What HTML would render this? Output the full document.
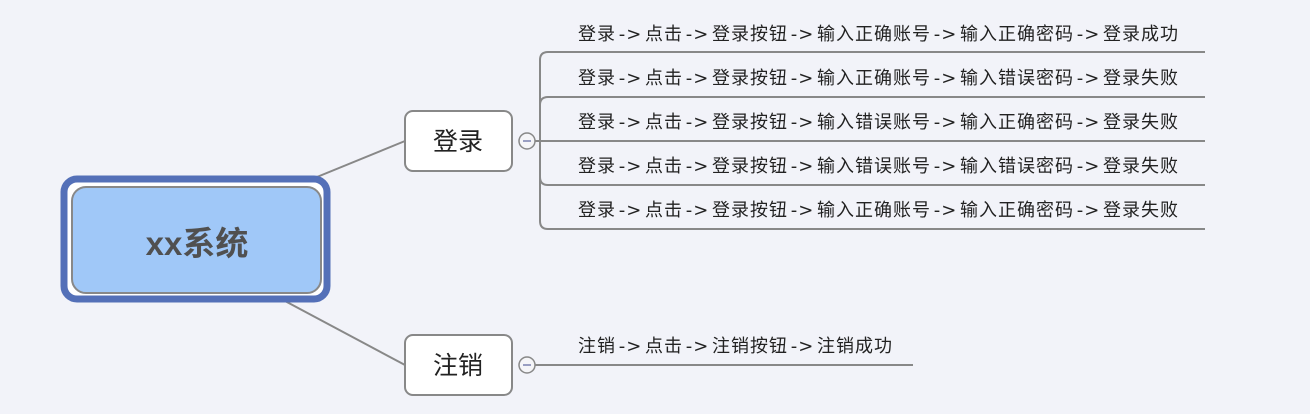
<!DOCTYPE html>
<html><head><meta charset="utf-8"><style>
body{margin:0;width:1310px;height:414px;background:#f2f3f9;overflow:hidden;font-family:"Liberation Sans","Noto Sans CJK SC",sans-serif;}
.t{position:absolute;font-size:18px;letter-spacing:1px;color:#222;white-space:nowrap;line-height:20px;font-family:"Noto Sans CJK SC",sans-serif}
.a{display:inline-block;width:29px;text-align:center;letter-spacing:1px;font-family:"DejaVu Sans",sans-serif;font-size:18px}
</style></head><body>
<svg width="1310" height="414" style="position:absolute;left:0;top:0">
<g fill="none" stroke="#888" stroke-width="2">
<line x1="290" y1="188" x2="405" y2="141"/>
<line x1="270" y1="293" x2="405" y2="365"/>
<path d="M519 141 H1205"/>
<path d="M1205 52 H548 Q540 52 540 60 V221 Q540 229 548 229 H1205"/>
<path d="M540 105 Q540 97 548 97 H1205"/>
<path d="M540 177 Q540 185 548 185 H1205"/>
<path d="M519 365 H913"/>
</g>
<rect x="64" y="179" width="263" height="120" rx="13" fill="#fff" stroke="#5470b8" stroke-width="7"/>
<rect x="72" y="187" width="249" height="106" rx="14" fill="#a0c8f8" stroke="#888" stroke-width="2"/>
<text x="197" y="255" text-anchor="middle" font-size="33" font-weight="bold" fill="#505050" font-family="Liberation Sans,Noto Sans CJK SC,sans-serif">xx系统</text>
<rect x="405" y="111" width="107" height="60" rx="8" fill="#fff" stroke="#888" stroke-width="2"/>
<rect x="405" y="335" width="107" height="60" rx="8" fill="#fff" stroke="#888" stroke-width="2"/>
<text x="458" y="150" text-anchor="middle" font-size="25" fill="#222" font-family="Noto Sans CJK SC,sans-serif">登录</text>
<text x="458" y="374" text-anchor="middle" font-size="25" fill="#222" font-family="Noto Sans CJK SC,sans-serif">注销</text>
<g fill="#f5f5f8" stroke="#888" stroke-width="1.5">
<circle cx="527" cy="141" r="8"/><circle cx="527" cy="365" r="8"/></g>
<g stroke="#7a80b0" stroke-width="1.5"><line x1="523" y1="141" x2="531" y2="141"/><line x1="523" y1="365" x2="531" y2="365"/></g>
</svg>
<div class="t" style="left:578px;top:23px">登录<span class="a">-&gt;</span>点击<span class="a">-&gt;</span>登录按钮<span class="a">-&gt;</span>输入正确账号<span class="a">-&gt;</span>输入正确密码<span class="a">-&gt;</span>登录成功</div>
<div class="t" style="left:578px;top:67px">登录<span class="a">-&gt;</span>点击<span class="a">-&gt;</span>登录按钮<span class="a">-&gt;</span>输入正确账号<span class="a">-&gt;</span>输入错误密码<span class="a">-&gt;</span>登录失败</div>
<div class="t" style="left:578px;top:111px">登录<span class="a">-&gt;</span>点击<span class="a">-&gt;</span>登录按钮<span class="a">-&gt;</span>输入错误账号<span class="a">-&gt;</span>输入正确密码<span class="a">-&gt;</span>登录失败</div>
<div class="t" style="left:578px;top:155px">登录<span class="a">-&gt;</span>点击<span class="a">-&gt;</span>登录按钮<span class="a">-&gt;</span>输入错误账号<span class="a">-&gt;</span>输入错误密码<span class="a">-&gt;</span>登录失败</div>
<div class="t" style="left:578px;top:199px">登录<span class="a">-&gt;</span>点击<span class="a">-&gt;</span>登录按钮<span class="a">-&gt;</span>输入正确账号<span class="a">-&gt;</span>输入正确密码<span class="a">-&gt;</span>登录失败</div>
<div class="t" style="left:578px;top:335px">注销<span class="a">-&gt;</span>点击<span class="a">-&gt;</span>注销按钮<span class="a">-&gt;</span>注销成功</div>
</body></html>
